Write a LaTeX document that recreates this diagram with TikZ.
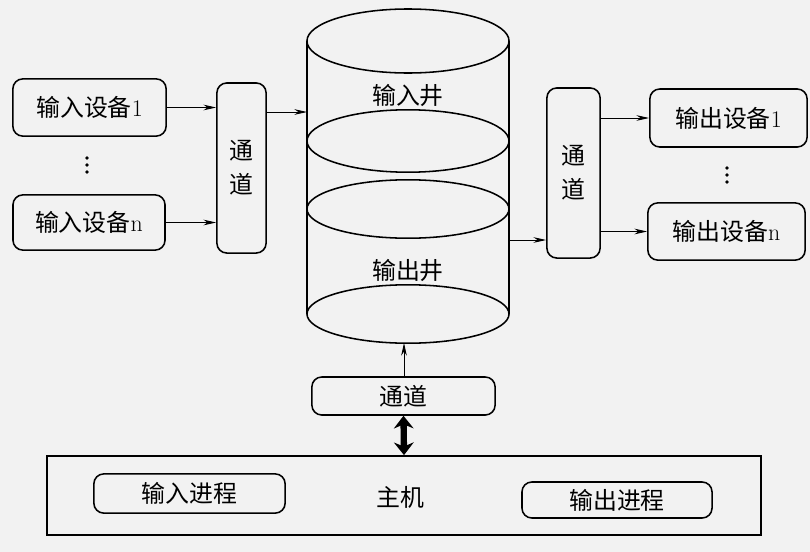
\documentclass[tikz,border=0pt]{standalone}
\usepackage{fontspec}
\newfontfamily\cjk{Noto Sans CJK SC}
\usetikzlibrary{arrows.meta}
\tikzset{
  box/.style={draw,line width=1.1pt,rounded corners=7pt,inner sep=0pt,
    align=center,font=\cjk\fontsize{17}{24}\selectfont},
  txt/.style={font=\cjk\fontsize{17}{24}\selectfont},
  link/.style={-{Stealth[length=9pt,width=4pt]},line width=0.6pt},
  well/.style={line width=1.1pt},
}

\begin{document}
\begin{tikzpicture}[x=0.025cm,y=-0.025cm]
\fill[gray!10] (0,0) rectangle (810,552);
\useasboundingbox (0,0) rectangle (810,552);

% input devices
\node[box,minimum width=3.83cm,minimum height=1.43cm] at (89.5,107.5) (in1) {输入设备{\rmfamily 1}};
\node[box,minimum width=3.8cm,minimum height=1.38cm] at (89,222.5) (inn) {输入设备{\rmfamily n}};
\foreach \y in {158,165,172}
  \fill (87,\y) circle [radius=1.4pt];
\node[box,minimum width=1.23cm,minimum height=4.25cm] at (241.5,168) (ch1) {通\\道};

% the well
\draw[well] (408,41) ellipse [x radius=2.525cm,y radius=0.8cm];
\draw[well] (408,141) ellipse [x radius=2.525cm,y radius=0.78cm];
\draw[well] (408,209) ellipse [x radius=2.525cm,y radius=0.73cm];
\draw[well] (408,314) ellipse [x radius=2.525cm,y radius=0.73cm];
\draw[well] (307,41) -- (307,314);
\draw[well] (509,41) -- (509,314);
\node[txt] at (408,95) (inwell) {输入井};
\node[txt] at (408,270) (outwell) {输出井};
\coordinate (wellin) at (307,112);
\coordinate (wellout) at (509,240);
\coordinate (wellbot) at (404,343);

% output devices
\node[box,minimum width=1.33cm,minimum height=4.25cm] at (573.5,173) (ch2) {通\\道};
\node[box,minimum width=3.93cm,minimum height=1.45cm] at (728.5,118) (out1) {输出设备{\rmfamily 1}};
\node[box,minimum width=3.93cm,minimum height=1.43cm] at (726.5,231.5) (outn) {输出设备{\rmfamily n}};
\foreach \y in {168,175,182}
  \fill (727,\y) circle [radius=1.4pt];

% host
\node[box,minimum width=4.58cm,minimum height=0.95cm] at (403.5,396) (ch3) {通道};
\node[box,rounded corners=0pt,minimum width=17.85cm,minimum height=1.98cm] at (404,495.5) (host) {};
\node[txt] at (400,497) (hostlbl) {主机};
\node[box,minimum width=4.78cm,minimum height=0.98cm] at (189.5,493.5) (inproc) {输入进程};
\node[box,minimum width=4.75cm,minimum height=0.9cm] at (617,500) (outproc) {输出进程};

\draw[link] (in1.east) -- (in1.east -| ch1.west);
\draw[link] (inn.east) -- (inn.east -| ch1.west);
\draw[link] (ch1.east |- wellin) -- (wellin);
\draw[link] (wellout) -- (wellout -| ch2.west);
\draw[link] (ch2.east |- out1.west) -- (out1.west);
\draw[link] (ch2.east |- outn.west) -- (outn.west);
\draw[link] (ch3.north -| wellbot) -- (wellbot);
\draw[{Stealth[length=9pt,width=14pt]}-{Stealth[length=9pt,width=14pt]},line width=4.5pt]
  (ch3.south) -- (host.north);

\end{tikzpicture}
\end{document}
